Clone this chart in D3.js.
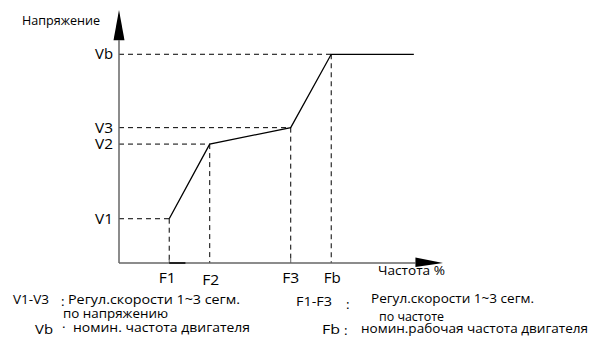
<!DOCTYPE html>
<html>
<head>
<meta charset="utf-8">
<script src="https://cdn.jsdelivr.net/npm/d3@7"></script>
<style>
  html, body { margin: 0; padding: 0; background: #fff; }
  svg { display: block; }
  text { font-family: "Open Sans", "Liberation Sans", sans-serif; fill: #000; }
</style>
</head>
<body>
<svg id="chart" width="589" height="338"></svg>
<script>
// Breakpoints of the V/F curve (percent of axis length)
const freqLabels = ["F1", "F2", "F3", "Fb"];
const freqValues = [15.5, 28, 53, 65.5];
const voltLabels = ["V1", "V2", "V3", "Vb"];
const voltValues = [17.5, 47, 53.5, 82.5];
// Curve starts at (F1,V1) and stays flat after (Fb,Vb) up to fEnd
const fEnd = 91;

const svg = d3.select("#chart");
const x = d3.scaleLinear().domain([0, 100]).range([119, 443]);
const y = d3.scaleLinear().domain([0, 100]).range([263, 10]);

const pts = freqValues.map((f, i) => [f, voltValues[i]]);
pts.push([fEnd, voltValues[3]]);

// Dashed guides from each breakpoint to both axes
const guides = svg.append("g").attr("stroke", "#000").attr("stroke-width", 1)
  .attr("stroke-dasharray", "5,4").attr("fill", "none");
freqValues.forEach((f, i) => {
  const v = voltValues[i];
  guides.append("line").attr("x1", x(0)).attr("x2", x(f)).attr("y1", y(v)).attr("y2", y(v));
  guides.append("line").attr("x1", x(f)).attr("x2", x(f)).attr("y1", y(v)).attr("y2", y(0));
});

// Axes with arrowheads
const axisColor = "#666";
svg.append("line").attr("x1", x(0)).attr("x2", x(0)).attr("y1", y(0)).attr("y2", y(88))
  .attr("stroke", axisColor).attr("stroke-width", 1.5);
svg.append("path")
  .attr("d", `M${x(0)},${y(100)} L${x(0) - 5.5},${y(88)} L${x(0) + 5.5},${y(88)} Z`)
  .attr("fill", "#000");
svg.append("line").attr("x1", x(0)).attr("x2", x(91.5)).attr("y1", y(0)).attr("y2", y(0))
  .attr("stroke", axisColor).attr("stroke-width", 1.5);
svg.append("path")
  .attr("d", `M${x(100)},${y(0)} L${x(91.5)},${y(0) - 5.5} L${x(91.5)},${y(0) + 4} Z`)
  .attr("fill", "#000");

// Small ticks on the frequency axis
[freqValues[0], freqValues[2]].forEach(f => {
  svg.append("line").attr("x1", x(f)).attr("x2", x(f)).attr("y1", y(0)).attr("y2", y(0) - 4)
    .attr("stroke", axisColor).attr("stroke-width", 1);
});
svg.append("line").attr("x1", x(freqValues[0])).attr("x2", x(20.5)).attr("y1", y(0)).attr("y2", y(0))
  .attr("stroke", "#222").attr("stroke-width", 2);

// V/F curve
svg.append("path").datum(pts)
  .attr("d", d3.line().x(d => x(d[0])).y(d => y(d[1])))
  .attr("fill", "none").attr("stroke", "#000").attr("stroke-width", 1.3);

// Helper: text with a fixed drawn width
function label(t, px, py, size, width, anchor) {
  const el = svg.append("text").attr("x", px).attr("y", py)
    .attr("font-size", size).attr("text-anchor", anchor || "start").text(t);
  if (width) el.attr("textLength", width).attr("lengthAdjust", "spacingAndGlyphs");
  return el;
}

// Voltage labels
voltLabels.forEach((t, i) => {
  label(t, 113, y(voltValues[i]) + 5, 14, 18, "end");
});
// Frequency labels
const fDx = [-2, 1, 0, 1];
const fBase = [283, 285, 283, 283];
freqLabels.forEach((t, i) => {
  label(t, x(freqValues[i]) + fDx[i], fBase[i], 14, 17, "middle");
});
label("Напряжение", 22, 25, 12.5, 78);
label("Частота %", 378, 275, 12.5, 67);

// Legend notes
const notes = [
  { t: "V1-V3", x: 13, y: 304, w: 36 },
  { t: ":", x: 61, y: 306 },
  { t: "Регул.скорости 1~3 сегм.", x: 68, y: 304, w: 172 },
  { t: "по напряжению", x: 63, y: 318, w: 105 },
  { t: "Vb", x: 35, y: 334, w: 18 },
  { t: "·", x: 62, y: 332 },
  { t: "номин. частота двигателя", x: 73, y: 332, w: 177 },
  { t: "F1-F3", x: 296, y: 306, w: 36 },
  { t: ":", x: 346, y: 309 },
  { t: "Регул.скорости 1~3 сегм.", x: 371, y: 303, w: 163 },
  { t: "по частоте", x: 379, y: 321, w: 65 },
  { t: "Fb", x: 322, y: 334, w: 18 },
  { t: ":", x: 344, y: 335 },
  { t: "номин.рабочая частота двигателя", x: 361, y: 333, w: 227 }
];
notes.forEach(n => label(n.t, n.x, n.y, 13.5, n.w));
</script>
</body>
</html>
